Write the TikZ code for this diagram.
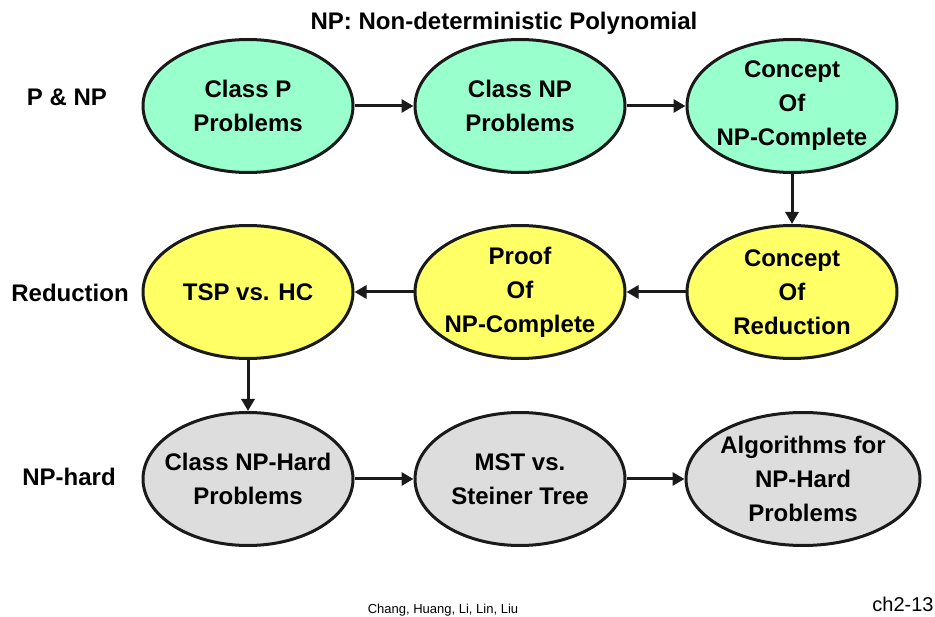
\documentclass[tikz,border=0pt]{standalone}
\usepackage{fontspec}
\setmainfont{Liberation Sans}
\usetikzlibrary{shapes.geometric,arrows.meta}
\definecolor{mint}{HTML}{99FFCC}
\definecolor{lemon}{HTML}{FFFF66}
\definecolor{pebble}{HTML}{DDDDDD}
\definecolor{ink}{HTML}{1A1A1A}
\tikzset{
  topic/.style={ellipse, draw=ink, line width=3pt, minimum width=210pt,
    minimum height=133pt, inner sep=0pt},
  topictext/.style={align=center, font=\fontsize{24}{34}\selectfont\bfseries},
  rowlabel/.style={font=\fontsize{24}{28}\selectfont\bfseries},
  flow/.style={draw=ink, line width=3pt, -{Triangle[length=12pt,width=13pt]}},
}
\begin{document}
\begin{tikzpicture}[x=1pt,y=-1pt]
\useasboundingbox (0,0) rectangle (935,617);

\node[font=\fontsize{24}{28}\selectfont\bfseries] (title) at (504,23) {NP: Non-deterministic Polynomial};

% row labels
\node[rowlabel] (pnp) at (67,97) {P \& NP};
\node[rowlabel] (red) at (70,293) {Reduction};
\node[rowlabel] (hard) at (69,477) {NP-hard};

% first row
\node[topic, fill=mint, label={[topictext]center:Class P\\Problems}] (classp) at (248,106) {};
\node[topic, fill=mint, label={[topictext]center:Class NP\\Problems}] (classnp) at (520,106) {};
\node[topic, fill=mint, label={[topictext]center:Concept\\Of\\NP-Complete}] (npc) at (792,106) {};

% second row
\node[topic, fill=lemon, label={[topictext]center:Concept\\Of\\Reduction}] (conred) at (792,292) {};
\node[topic, fill=lemon, label={[topictext]center:Proof\\Of\\NP-Complete}] (proof) at (520,292) {};
\node[topic, fill=lemon, label={[topictext]center:TSP vs. HC}] (tsp) at (248,292) {};

% third row
\node[topic, fill=pebble, label={[topictext]center:Class NP-Hard\\Problems}] (nphard) at (248,479) {};
\node[topic, fill=pebble, label={[topictext]center:MST vs.\\Steiner Tree}] (mst) at (520,479) {};
\node[topic, fill=pebble, minimum width=234pt, label={[topictext]center:Algorithms for\\NP-Hard\\Problems}] (algo) at (803,479) {};

% connectors
\draw[flow] (classp.east) -- (classnp.west);
\draw[flow] (classnp.east) -- (npc.west);
\draw[flow] (npc.south) -- (conred.north);
\draw[flow] (conred.west) -- (proof.east);
\draw[flow] (proof.west) -- (tsp.east);
\draw[flow] (tsp.south) -- (nphard.north);
\draw[flow] (nphard.east) -- (mst.west);
\draw[flow] (mst.east) -- (algo.west);

% footer
\node[font=\fontsize{13}{15}\selectfont] (authors) at (443,610) {Chang, Huang, Li, Lin, Liu};
\node[font=\fontsize{20}{24}\selectfont] (page) at (903,604) {ch2-13};
\end{tikzpicture}
\end{document}
